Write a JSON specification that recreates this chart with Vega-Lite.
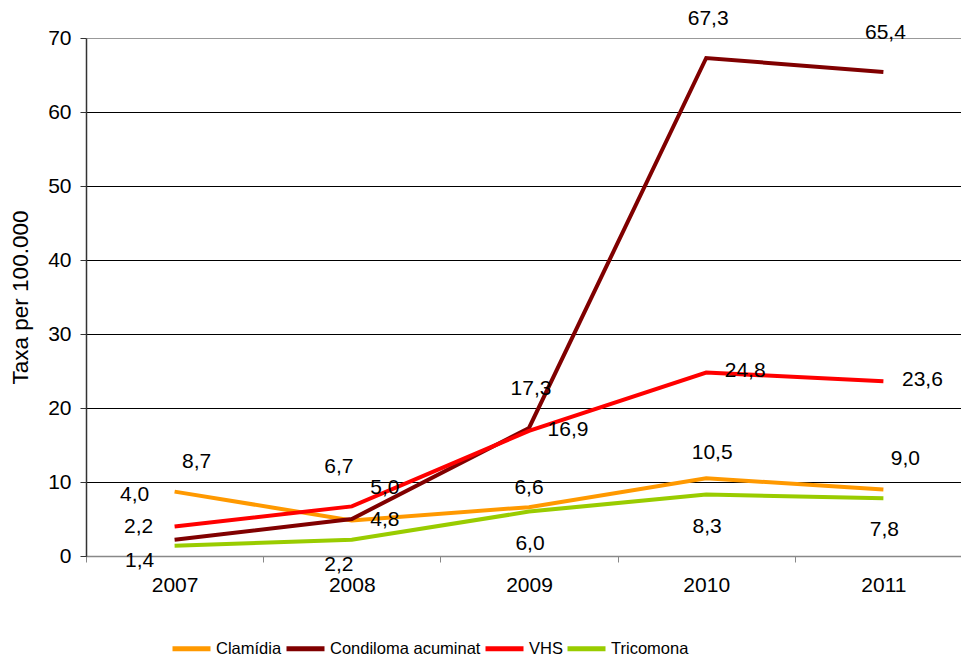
{
  "$schema": "https://vega.github.io/schema/vega-lite/v6.json",
  "width": 875,
  "height": 518,
  "autosize": {"type": "none"},
  "padding": {"left": 86, "top": 38, "right": 0, "bottom": 105},
  "config": {
    "font": "Liberation Sans",
    "view": {"stroke": null},
    "text": {"font": "Liberation Sans", "fontSize": 21, "color": "#000", "align": "center", "baseline": "middle"}
  },
  "data": {"values": [
    {"year": "2007", "s": "Clamídia", "v": 8.7},
    {"year": "2008", "s": "Clamídia", "v": 4.8},
    {"year": "2009", "s": "Clamídia", "v": 6.6},
    {"year": "2010", "s": "Clamídia", "v": 10.5},
    {"year": "2011", "s": "Clamídia", "v": 9.0},
    {"year": "2007", "s": "Condiloma acuminat", "v": 2.2},
    {"year": "2008", "s": "Condiloma acuminat", "v": 5.0},
    {"year": "2009", "s": "Condiloma acuminat", "v": 17.3},
    {"year": "2010", "s": "Condiloma acuminat", "v": 67.3},
    {"year": "2011", "s": "Condiloma acuminat", "v": 65.4},
    {"year": "2007", "s": "VHS", "v": 4.0},
    {"year": "2008", "s": "VHS", "v": 6.7},
    {"year": "2009", "s": "VHS", "v": 16.9},
    {"year": "2010", "s": "VHS", "v": 24.8},
    {"year": "2011", "s": "VHS", "v": 23.6},
    {"year": "2007", "s": "Tricomona", "v": 1.4},
    {"year": "2008", "s": "Tricomona", "v": 2.2},
    {"year": "2009", "s": "Tricomona", "v": 6.0},
    {"year": "2010", "s": "Tricomona", "v": 8.3},
    {"year": "2011", "s": "Tricomona", "v": 7.8}
  ]},
  "transform": [{"calculate": "replace(format(datum.v, '.1f'), '.', ',')", "as": "lab"}],
  "encoding": {
    "x": {
      "field": "year", "type": "ordinal", "bandPosition": 0.5,
      "scale": {"type": "band", "paddingInner": 0, "paddingOuter": 0, "range": [0, 886]},
      "axis": {
        "title": null, "labelAngle": 0, "labelFontSize": 21, "labelColor": "#000", "labelPadding": 12,
        "tickBand": "extent", "tickSize": 6, "tickColor": "#888", "domainColor": "#888", "domainWidth": 1.5,
        "grid": false
      }
    },
    "y": {
      "field": "v", "type": "quantitative",
      "scale": {"domain": [0, 70], "nice": false},
      "axis": {
        "title": "Taxa per 100.000", "titleFontSize": 22.5, "titleFontWeight": "normal", "titleColor": "#000", "titlePadding": 15,
        "values": [0, 10, 20, 30, 40, 50, 60, 70],
        "labelFontSize": 21, "labelColor": "#000", "labelPadding": 9,
        "tickSize": 6, "tickColor": "#333", "domainColor": "#333", "domainWidth": 1.5,
        "grid": true,
        "gridColor": {"condition": {"test": "datum.value === 70", "value": "#999999"}, "value": "#000000"},
        "gridWidth": 1
      }
    }
  },
  "layer": [
    {
      "mark": {"type": "line", "strokeWidth": 4},
      "encoding": {
        "color": {
          "field": "s", "type": "nominal",
          "scale": {"domain": ["Clamídia", "Condiloma acuminat", "VHS", "Tricomona"], "range": ["#FF9900", "#800000", "#FF0000", "#99CC00"]},
          "legend": {
            "title": null, "orient": "none", "direction": "horizontal", "legendX": 84, "legendY": 589,
            "symbolType": "stroke", "symbolSize": 1444, "symbolStrokeWidth": 5,
            "labelFont": "Liberation Sans", "labelFontSize": 16.5, "labelColor": "#000", "labelOffset": 3,
            "columnPadding": -6
          }
        }
      }
    },
    {"transform": [{"filter": "datum.s === 'Clamídia' && (datum.year === '2007' || datum.year === '2011')"}], "mark": {"type": "text", "dx": 22, "dy": -30}, "encoding": {"text": {"field": "lab"}}},
    {"transform": [{"filter": "datum.s === 'Clamídia' && datum.year === '2008'"}], "mark": {"type": "text", "dx": 33, "dy": 0}, "encoding": {"text": {"field": "lab"}}},
    {"transform": [{"filter": "datum.s === 'Clamídia' && datum.year === '2009'"}], "mark": {"type": "text", "dx": 0, "dy": -19}, "encoding": {"text": {"field": "lab"}}},
    {"transform": [{"filter": "datum.s === 'Clamídia' && datum.year === '2010'"}], "mark": {"type": "text", "dx": 6, "dy": -25}, "encoding": {"text": {"field": "lab"}}},
    {"transform": [{"filter": "datum.s === 'Condiloma acuminat' && datum.year === '2007'"}], "mark": {"type": "text", "dx": -36, "dy": -13}, "encoding": {"text": {"field": "lab"}}},
    {"transform": [{"filter": "datum.s === 'Condiloma acuminat' && datum.year === '2008'"}], "mark": {"type": "text", "dx": 33, "dy": -31}, "encoding": {"text": {"field": "lab"}}},
    {"transform": [{"filter": "datum.s === 'Condiloma acuminat' && datum.year >= '2009'"}], "mark": {"type": "text", "dx": 2, "dy": -39}, "encoding": {"text": {"field": "lab"}}},
    {"transform": [{"filter": "datum.s === 'VHS' && datum.year === '2007'"}], "mark": {"type": "text", "dx": -40, "dy": -31}, "encoding": {"text": {"field": "lab"}}},
    {"transform": [{"filter": "datum.s === 'VHS' && datum.year === '2008'"}], "mark": {"type": "text", "dx": -13, "dy": -39}, "encoding": {"text": {"field": "lab"}}},
    {"transform": [{"filter": "datum.s === 'VHS' && datum.year >= '2009'"}], "mark": {"type": "text", "dx": 39, "dy": -1}, "encoding": {"text": {"field": "lab"}}},
    {"transform": [{"filter": "datum.s === 'Tricomona' && datum.year === '2007'"}], "mark": {"type": "text", "dx": -35, "dy": 15}, "encoding": {"text": {"field": "lab"}}},
    {"transform": [{"filter": "datum.s === 'Tricomona' && datum.year === '2008'"}], "mark": {"type": "text", "dx": -13, "dy": 25}, "encoding": {"text": {"field": "lab"}}},
    {"transform": [{"filter": "datum.s === 'Tricomona' && datum.year >= '2009'"}], "mark": {"type": "text", "dx": 1, "dy": 32}, "encoding": {"text": {"field": "lab"}}}
  ]
}
